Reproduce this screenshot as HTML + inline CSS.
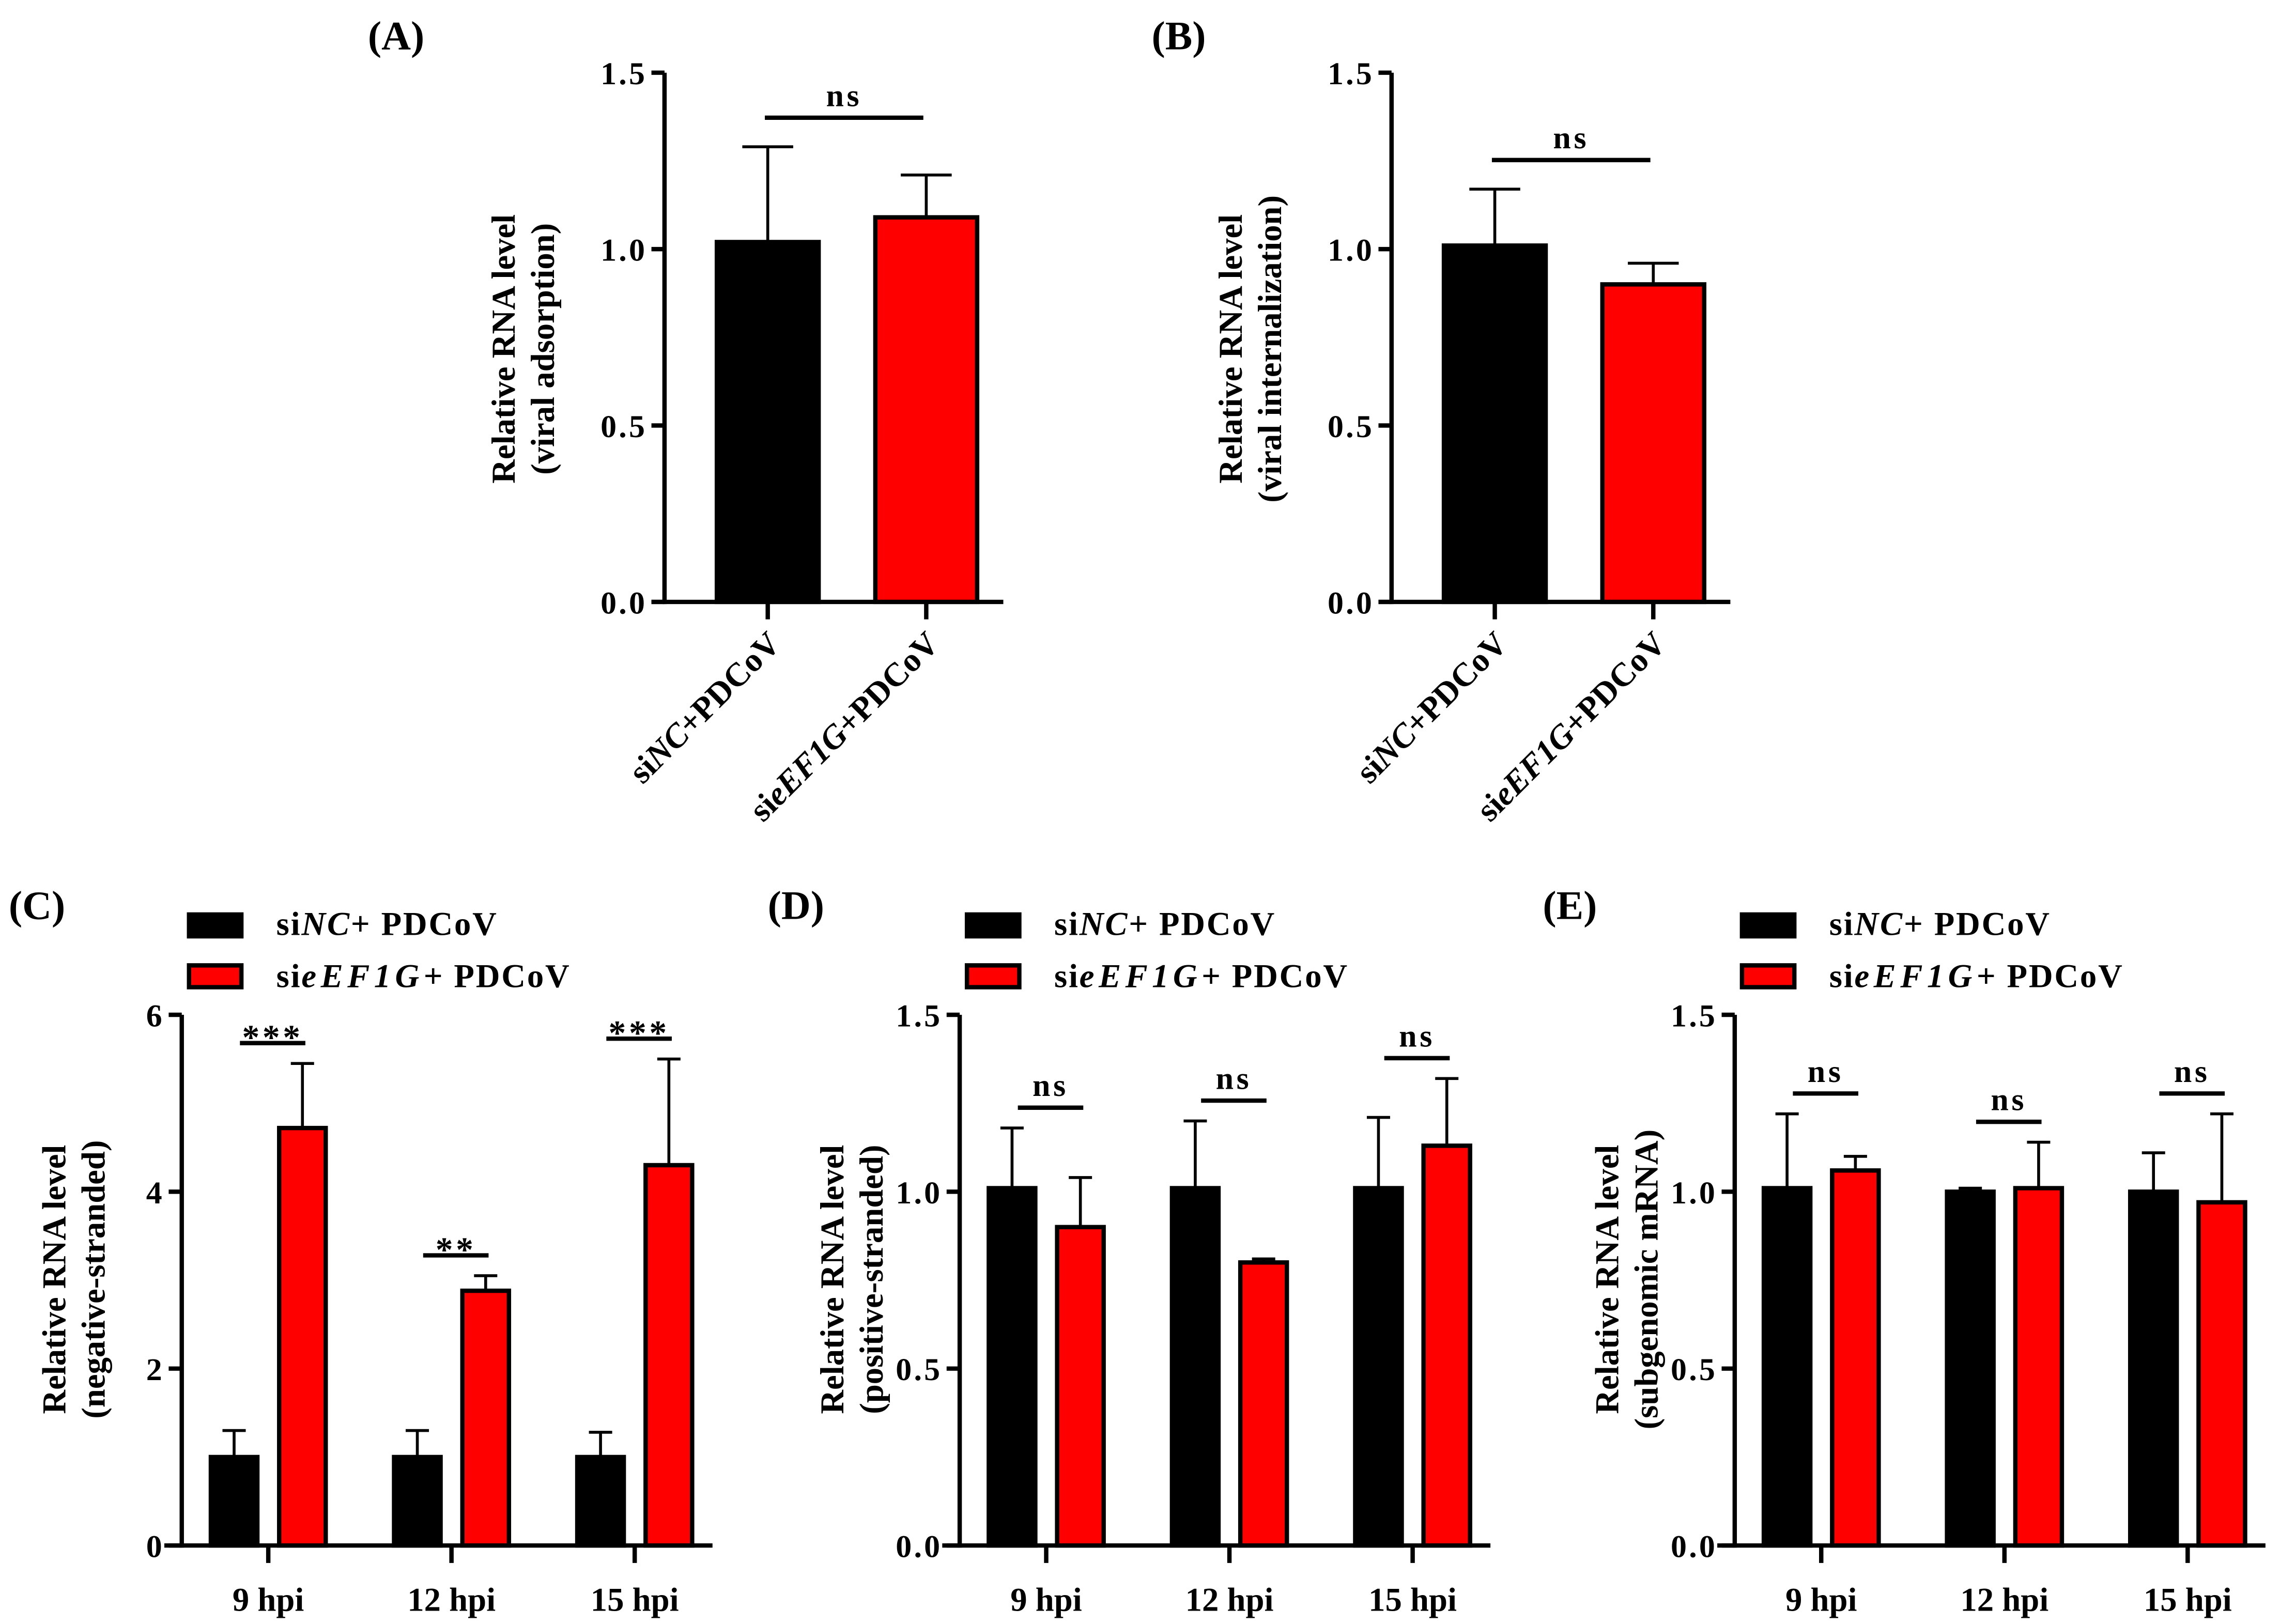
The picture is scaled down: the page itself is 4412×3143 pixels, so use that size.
<!DOCTYPE html>
<html><head><meta charset="utf-8"><style>
html,body{margin:0;padding:0;background:#fff;}
svg{display:block;}
text{font-family:"Liberation Serif",serif;font-weight:bold;fill:#000;}
</style></head><body>
<svg id="fig" width="4412" height="3143" viewBox="0 0 1568 1117" xmlns="http://www.w3.org/2000/svg"></svg>
<script>
// Panel A data
const aCategories = ["siNC+PDCoV", "sieEF1G+PDCoV"];
const aValues = [1.02, 1.09];
const aErrors = [1.29, 1.21];
const aTicks = [0.0, 0.5, 1.0, 1.5];
// Panel B data
const bValues = [1.01, 0.90];
const bErrors = [1.17, 0.96];
const bTicks = [0.0, 0.5, 1.0, 1.5];
// Grouped panels
const groups = ["9 hpi", "12 hpi", "15 hpi"];
const cNC = [1.0, 1.0, 1.0];
const cNCerr = [1.3, 1.3, 1.28];
const cEF = [4.72, 2.88, 4.3];
const cEFerr = [5.45, 3.05, 5.5];
const cSig = ["***", "**", "***"];
const cTicks = [0, 2, 4, 6];
const dNC = [1.01, 1.01, 1.01];
const dNCerr = [1.18, 1.2, 1.21];
const dEF = [0.9, 0.8, 1.13];
const dEFerr = [1.04, 0.81, 1.32];
const dSig = ["ns", "ns", "ns"];
const dTicks = [0.0, 0.5, 1.0, 1.5];
const eNC = [1.01, 1.0, 1.0];
const eNCerr = [1.22, 1.01, 1.11];
const eEF = [1.06, 1.01, 0.97];
const eEFerr = [1.1, 1.14, 1.22];
const eSig = ["ns", "ns", "ns"];
const eTicks = [0.0, 0.5, 1.0, 1.5];

const svg = document.getElementById('fig');
const NS = "http://www.w3.org/2000/svg";
function el(tag, attrs, parent, txt) {
  const e = document.createElementNS(NS, tag);
  for (const k in attrs) e.setAttribute(k, attrs[k]);
  if (txt !== undefined) e.textContent = txt;
  (parent || svg).appendChild(e);
  return e;
}
function fmt(v, dec) { return dec ? v.toFixed(1) : String(v); }

function yAxis(g, ax, y0, y1, ticks, max, dec) {
  const sc = v => y0 - (v / max) * (y0 - y1);
  const l = el('line', {x1: ax, y1: y0 + 1.5, x2: ax, y2: y1, stroke: '#000', 'stroke-width': 3}, g);
  
  
  ticks.forEach(t => {
    const y = sc(t);
    el('line', {x1: ax - 9, y1: y, x2: ax, y2: y, stroke: '#000', 'stroke-width': 3}, g);
    const tx = el('text', {x: ax - 12, y: y + 8, 'text-anchor': 'end', 'font-size': 22, 'letter-spacing': 1.5}, g, fmt(t, dec));
    
    
  });
  return sc;
}
function bar(g, x, w, val, err, sc, color, name) {
  const y0 = sc(0), yt = sc(val), ye = sc(err);
  const cx = x + w / 2;
  const el1 = el('line', {x1: cx, y1: yt, x2: cx, y2: ye, stroke: '#000', 'stroke-width': 2}, g);
  
  
  el('line', {x1: cx - w * 0.25, y1: ye, x2: cx + w * 0.25, y2: ye, stroke: '#000', 'stroke-width': 2}, g);
  const r = el('rect', {x: x, y: yt, width: w, height: y0 - yt, fill: color, stroke: '#000', 'stroke-width': 3}, g);
  
  
}
function ylabel(g, x1, x2, cy, l1, l2) {
  const t1 = el('text', {x: x1, y: cy, 'text-anchor': 'middle', 'font-size': 23, transform: `rotate(-90 ${x1} ${cy})`}, g, l1);
  
  
  const t2 = el('text', {x: x2, y: cy, 'text-anchor': 'middle', 'font-size': 23, transform: `rotate(-90 ${x2} ${cy})`}, g, l2);
  
  
}
function sigMark(g, xa, xb, y, label) {
  const l = el('line', {x1: xa, y1: y, x2: xb, y2: y, stroke: '#000', 'stroke-width': 3}, g);
  
  
  const t = el('text', {x: (xa + xb) / 2, y: label === 'ns' ? y - 8 : y + 4, 'text-anchor': 'middle', 'font-size': label === 'ns' ? 22 : 24, 'letter-spacing': 2}, g, label);
  
  
}
function panelTitle(g, x, y, s) {
  const t = el('text', {x: x, y: y, 'font-size': 28}, g, s);
  
  
}

function simplePanel(id, ax, vals, errs, ticks, title, tx, sub) {
  const g = el('g', {});
  
  
  panelTitle(g, tx, 34, title);
  const y0 = 414, y1 = 50;
  const sc = yAxis(g, ax, y0, y1, ticks, 1.5, true);
  el('line', {x1: ax - 9, y1: y0, x2: ax + 233, y2: y0, stroke: '#000', 'stroke-width': 3}, g);
  const bw = 70, starts = [ax + 36, ax + 145];
  vals.forEach((v, i) => {
    bar(g, starts[i], bw, v, errs[i], sc, i === 0 ? '#000' : '#ff0000', 'bar-' + id + '-' + (i === 0 ? 'sinc' : 'sieef1g'));
    const cx = starts[i] + bw / 2;
    el('line', {x1: cx, y1: y0, x2: cx, y2: y0 + 12, stroke: '#000', 'stroke-width': 3}, g);
    const t = el('text', {x: cx + 10, y: y0 + 30, 'text-anchor': 'end', 'font-size': 23, transform: `rotate(-45 ${cx + 10} ${y0 + 30})`}, g);
    
    
    if (i === 0) {
      el('tspan', {}, t, 'si'); el('tspan', {'font-style': 'italic'}, t, 'NC'); el('tspan', {}, t, '+PDCoV');
    } else {
      el('tspan', {}, t, 'si'); el('tspan', {'font-style': 'italic'}, t, 'eEF1G'); el('tspan', {}, t, '+PDCoV');
    }
  });
  const topE = Math.max(errs[0], errs[1]);
  sigMark(g, starts[0] + bw / 2 - 2, starts[1] + bw / 2 - 2, sc(topE) - 20, 'ns');
  ylabel(g, ax - 103, ax - 76, 240, 'Relative RNA level', sub);
}
simplePanel('a', 457, aValues, aErrors, aTicks, '(A)', 253, '(viral adsorption)');
simplePanel('b', 957, bValues, bErrors, bTicks, '(B)', 792, '(viral internalization)');

function groupPanel(id, ax, nc, ncE, ef, efE, sig, ticks, max, dec, title, tx, sub) {
  const g = el('g', {});
  
  
  panelTitle(g, tx, 632, title);
  const lx = ax + 3;
  const r1 = el('rect', {x: lx + 2, y: 629, width: 36, height: 15, fill: '#000', stroke: '#000', 'stroke-width': 3}, g);
  
  
  const t1 = el('text', {x: lx + 62, y: 643, 'font-size': 23, 'letter-spacing': 1}, g);
  
  
  el('tspan', {}, t1, 'si'); el('tspan', {'font-style': 'italic'}, t1, 'NC'); el('tspan', {}, t1, '+ PDCoV');
  const r2 = el('rect', {x: lx + 2, y: 664, width: 36, height: 15, fill: '#ff0000', stroke: '#000', 'stroke-width': 3}, g);
  
  
  const t2 = el('text', {x: lx + 62, y: 679, 'font-size': 23, 'letter-spacing': 1}, g);
  
  
  el('tspan', {}, t2, 'si'); el('tspan', {'font-style': 'italic', 'letter-spacing': 3}, t2, 'eEF1G'); el('tspan', {}, t2, '+ PDCoV');

  const y0 = 1063, y1 = 698;
  const sc = yAxis(g, ax, y0, y1, ticks, max, dec);
  el('line', {x1: ax - 12, y1: y0, x2: ax + 365, y2: y0, stroke: '#000', 'stroke-width': 3}, g);
  const bw = 32, step = 126;
  groups.forEach((gr, i) => {
    const bx = ax + 20 + i * step;
    const rx = bx + 47;
    bar(g, bx, bw, nc[i], ncE[i], sc, '#000', 'bar-' + id + '-sinc-' + i);
    bar(g, rx, bw, ef[i], efE[i], sc, '#ff0000', 'bar-' + id + '-sieef1g-' + i);
    const cx = (bx + rx + bw) / 2;
    el('line', {x1: cx, y1: y0, x2: cx, y2: y0 + 12, stroke: '#000', 'stroke-width': 3}, g);
    const t = el('text', {x: cx, y: y0 + 45, 'text-anchor': 'middle', 'font-size': 23}, g, gr);
    
    
    const top = Math.max(ncE[i], efE[i]);
    sigMark(g, bx + 20, rx + bw - 14, sc(top) - 14, sig[i]);
  });
  ylabel(g, ax - 80, ax - 53, 880, 'Relative RNA level', sub);
}
groupPanel('c', 125, cNC, cNCerr, cEF, cEFerr, cSig, cTicks, 6, false, '(C)', 6, '(negative-stranded)');
groupPanel('d', 660, dNC, dNCerr, dEF, dEFerr, dSig, dTicks, 1.5, true, '(D)', 528, '(positive-stranded)');
groupPanel('e', 1193, eNC, eNCerr, eEF, eEFerr, eSig, eTicks, 1.5, true, '(E)', 1061, '(subgenomic mRNA)');
</script>
</body></html>
